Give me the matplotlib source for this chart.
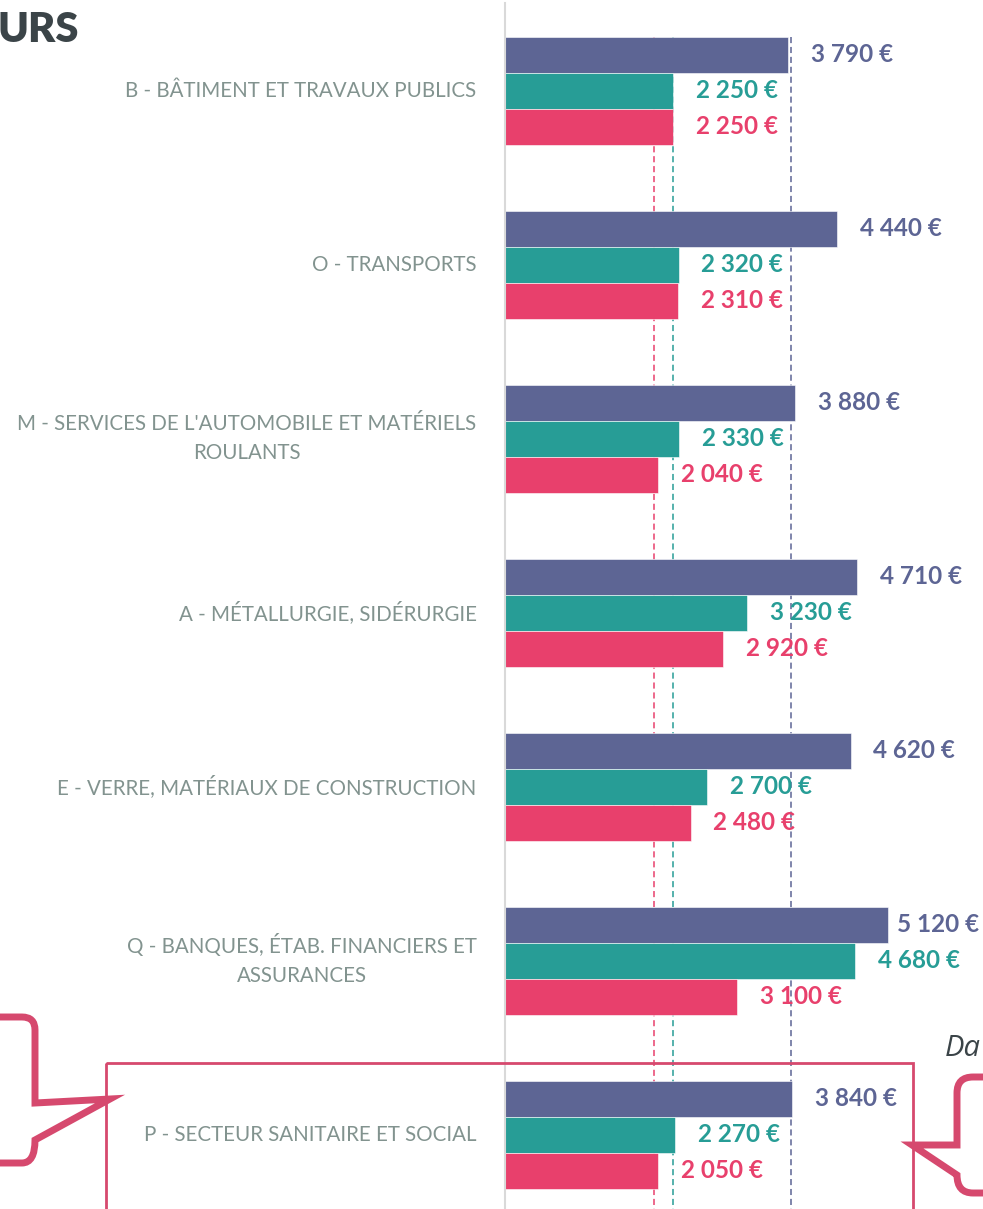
import matplotlib
matplotlib.use("Agg")
import matplotlib.pyplot as plt
import numpy as np
from matplotlib.path import Path
from matplotlib.patches import PathPatch, Rectangle

# ---------------- data ----------------
categories = [
    "B - BÂTIMENT ET TRAVAUX PUBLICS",
    "O - TRANSPORTS",
    "M - SERVICES DE L'AUTOMOBILE ET MATÉRIELS\nROULANTS",
    "A - MÉTALLURGIE, SIDÉRURGIE",
    "E - VERRE, MATÉRIAUX DE CONSTRUCTION",
    "Q - BANQUES, ÉTAB. FINANCIERS ET\nASSURANCES",
    "P - SECTEUR SANITAIRE ET SOCIAL",
]
series_purple = [3790, 4440, 3880, 4710, 4620, 5120, 3840]
series_teal = [2250, 2320, 2330, 3230, 2700, 4680, 2270]
series_pink = [2250, 2310, 2040, 2920, 2480, 3100, 2050]
ref_lines = [3830, 2240, 1990]  # purple, teal, pink dashed references

# ---------------- style ----------------
C_PURPLE = "#5d6594"
C_TEAL = "#279d96"
C_PINK = "#e8406c"
C_LABEL = "#82938f"
C_DARK = "#3b4448"
C_CALL = "#d6496e"
FONT = "Lato"

W, H = 983, 1209
fig = plt.figure(figsize=(W / 100, H / 100), dpi=100)

x0_px = 505
px_per_eur = 0.0748
ax = fig.add_axes([x0_px / W, 0, (W - x0_px) / W, 1])
ax.set_xlim(0, (W - x0_px) / px_per_eur)
ax.set_ylim(H, 0)

n = len(categories)
group_top = 37 + np.arange(n) * 174
bar_h = 36
y_p = group_top + bar_h * 0.5
y_t = group_top + bar_h * 1.5
y_k = group_top + bar_h * 2.5

# reference dashed lines (behind bars)
for val, col in zip(ref_lines, [C_PURPLE, C_TEAL, C_PINK]):
    ax.vlines(val, group_top[0], H, colors=col, linestyles=(0, (4, 2.5)),
              linewidth=1.1, zorder=1)

for ys, vals, col in [(y_p, series_purple, C_PURPLE), (y_t, series_teal, C_TEAL),
                      (y_k, series_pink, C_PINK)]:
    ax.barh(ys, vals, height=bar_h, color=col, edgecolor="white",
            linewidth=0.4, zorder=2)

# value labels
fig.canvas.draw()
renderer = fig.canvas.get_renderer()
OFF = 16.5
for ys, vals, col in [(y_p, series_purple, C_PURPLE), (y_t, series_teal, C_TEAL),
                      (y_k, series_pink, C_PINK)]:
    for y, v in zip(ys, vals):
        lab = f"{v:,}".replace(",", " ") + " €"
        t = ax.annotate(lab, xy=(v, y), xytext=(OFF, 0), textcoords="offset points",
                        ha="left", va="center", fontsize=17.5, fontweight="bold",
                        color=col, family=FONT, zorder=4, annotation_clip=False)
        bb = t.get_window_extent(renderer)
        if bb.x1 > W - 4:
            shift = (bb.x1 - (W - 4)) * 72 / 100
            t.set_position((OFF - shift, 0))

# category labels as y tick labels
n_lines = np.array([c.count("\n") + 1 for c in categories])
ax.set_yticks(y_t - 2 - 5 * (n_lines - 1))
ax.set_yticklabels(categories, fontsize=14.8, color=C_LABEL, family=FONT,
                   linespacing=1.55)
for tl in ax.get_yticklabels():
    tl.set_multialignment("center")
ax.tick_params(axis="y", length=0, pad=20.5)
ax.tick_params(axis="x", bottom=False, labelbottom=False)
for s in ["top", "right", "bottom"]:
    ax.spines[s].set_visible(False)
ax.spines["left"].set_color("#d9d9d9")
ax.spines["left"].set_linewidth(1.5)
ax.spines["left"].set_bounds(H, 3)

# ---------------- overlay decorations ----------------
ov = fig.add_axes([0, 0, 1, 1], zorder=5)
ov.set_xlim(0, W)
ov.set_ylim(H, 0)
ov.axis("off")
ov.patch.set_alpha(0)

ov.text(-2, 30, "URS", ha="left", va="center", fontsize=30, fontweight="heavy",
        color=C_DARK, family=FONT)
ov.text(945, 1049, "Da", ha="left", va="center", fontsize=21, style="italic",
        color=C_DARK, family="Open Sans")

# highlight rectangle
ov.add_patch(Rectangle((106, 1063), 913 - 106, 200, fill=False, edgecolor=C_CALL,
                       linewidth=2.0))

# left callout bubble
r = 13
verts = [(-10, 1017), (35 - r, 1017), (35, 1017), (35, 1017 + r), (35, 1103),
         (110, 1099), (35, 1140), (35, 1163), (35 - r, 1163), (-10, 1163)]
codes = [Path.MOVETO, Path.LINETO, Path.CURVE3, Path.CURVE3, Path.LINETO,
         Path.LINETO, Path.LINETO, Path.CURVE3, Path.CURVE3, Path.LINETO]
ov.add_patch(PathPatch(Path(verts, codes), fill=False, edgecolor=C_CALL,
                       linewidth=5, joinstyle="miter", capstyle="butt"))

# right callout bubble
r2 = 16
verts2 = [(995, 1077), (957 + r2, 1077), (957, 1077), (957, 1077 + r2), (957, 1145),
          (912, 1145), (957, 1175), (957, 1193), (957 + r2, 1193), (995, 1193)]
ov.add_patch(PathPatch(Path(verts2, codes), fill=False, edgecolor=C_CALL,
                       linewidth=5, joinstyle="miter", capstyle="butt"))

fig.savefig("out.png", dpi=100)
